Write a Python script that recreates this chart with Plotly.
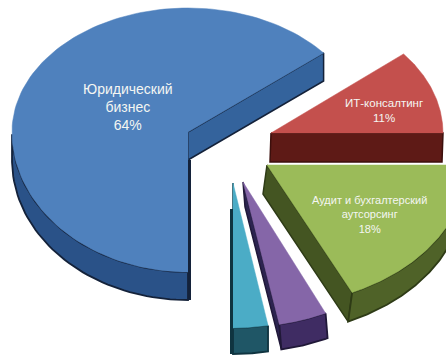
import numpy as np
import plotly.graph_objects as go

# Share of the market by segment, in percent
segments = ["Юридический<br>бизнес", "ИТ-консалтинг", "Аудит и бухгалтерский<br>аутсорсинг", "Прочее 1", "Прочее 2"]
shares = [64, 11, 18, 4, 3]
show_label = [True, True, True, False, False]

# Drawing style of every wedge: apex, radii, wall height, colours
apex_x = [188, 271, 267, 243, 233]
apex_y = [132, 133, 165, 182, 183]
radius_x = [176, 172, 200, 194, 187]
radius_back = [124, 124, 141, 145, 145]
radius_front = [140, 124, 141, 145, 145]
depth = [28, 29, 29, 25, 26]
depth_dx = [0, -1, -4, 2, 0]
top_colors = ["#4f81bd", "#c4504d", "#9bbb59", "#8566a8", "#4bacc6"]
wall_colors = ["#2a5288", "#5e1a16", "#4f6228", "#3f2c63", "#1f5666"]
inner_colors = ["#34639c", "#5e1a16", "#445522", "#2c2450", "#163f4c"]
edge_colors = ["#14223a", "#3c0f0c", "#2e3b16", "#201838", "#0f3440"]
label_x = [128, 384, 369, None, None]
label_y = [107, 110, 214, None, None]
label_size = [14, 11.5, 11, None, None]

START_ANGLE = -180.0  # clockwise from north


def rim(i, a0, a1, n=120):
    t = np.radians(np.linspace(a0, a1, n))
    c = np.cos(t)
    b = np.where(c > 0, radius_back[i], radius_front[i])
    return apex_x[i] + radius_x[i] * np.sin(t), apex_y[i] - b * c


def polygon(x, y, fill, line=None, width=0.0):
    return go.Scatter(
        x=list(x) + [x[0]], y=list(y) + [y[0]], mode="lines", fill="toself",
        fillcolor=fill, line=dict(color=line or fill, width=width or 0.5),
        hoverinfo="skip", showlegend=False,
    )


fig = go.Figure()
annotations = []
cum = START_ANGLE
for i, share in enumerate(shares):
    a0, a1 = cum, cum + share * 3.6
    cum = a1
    ax, ay, d, dx = apex_x[i], apex_y[i], depth[i], depth_dx[i]
    ex1, ey1 = rim(i, a1, a1, 1)

    # Cut wall along the closing radius of the wedge
    wx = [ax, ex1[0], ex1[0] + dx, ax + dx]
    wy = [ay, ey1[0], ey1[0] + d, ay + d]
    fig.add_trace(polygon(wx, wy, inner_colors[i], edge_colors[i], 1.5))

    # Outer rim wall, only the part turned towards the viewer
    rx, ry = rim(i, a0, a1)
    front = np.cos(np.radians(np.linspace(a0, a1, rx.size))) <= 0
    if front.any():
        fx, fy = rx[front], ry[front]
        fig.add_trace(polygon(
            np.r_[fx, fx[::-1] + dx], np.r_[fy, fy[::-1] + d],
            wall_colors[i], edge_colors[i], 1.8,
        ))

    # Top surface
    fig.add_trace(polygon(np.r_[ax, rx], np.r_[ay, ry], top_colors[i]))

    # The opening radius runs straight down on the first and last wedges,
    # so its wall shows only as a dark vertical strip
    if i in (0, 4):
        sx, sy = rim(i, a0 if i == 0 else a1, a0 if i == 0 else a1, 1)
        off = 1.5 if i == 0 else -1.5
        fig.add_trace(go.Scatter(
            x=[ax + off, ax + off], y=[ay + d, sy[0] + d], mode="lines",
            line=dict(color=edge_colors[i], width=3),
            hoverinfo="skip", showlegend=False,
        ))

    if show_label[i]:
        annotations.append(dict(
            x=label_x[i], y=label_y[i], xref="x", yref="y", showarrow=False,
            text=f"{segments[i]}<br>{share}%", align="center",
            font=dict(family="Liberation Sans", size=label_size[i], color="#f4f6f2"),
        ))

fig.update_layout(
    width=446, height=356, margin=dict(l=0, r=0, t=0, b=0),
    paper_bgcolor="white", plot_bgcolor="white", showlegend=False,
    xaxis=dict(range=[0, 446], visible=False, fixedrange=True),
    yaxis=dict(range=[356, 0], visible=False, fixedrange=True),
    annotations=annotations,
)
fig.write_html("out.html", config={"displayModeBar": False})
